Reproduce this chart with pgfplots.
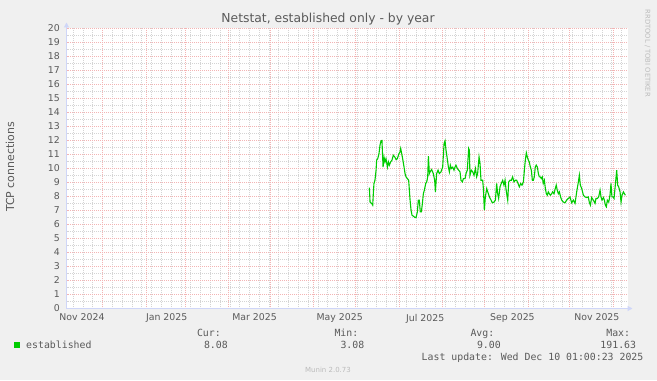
\documentclass[border=0pt]{standalone}
\usepackage{pgfplots}
\pgfplotsset{compat=1.18}
\usepackage{fontspec}
\setmainfont{DejaVu Sans}
\newfontfamily\monofont{DejaVu Sans Mono}
\usetikzlibrary{arrows.meta}
\definecolor{bgc}{HTML}{F0F0F0}
\definecolor{txt}{HTML}{5A5A5A}
\definecolor{ltxt}{HTML}{BBBBBB}
\definecolor{mgrid}{HTML}{F3B4B4}
\definecolor{sgrid}{HTML}{D4D4D4}
\definecolor{axc}{HTML}{CFD6F8}
\definecolor{est}{HTML}{00CC00}
\pgfplotstableread{
x y
190.6 8.64
191.1 7.6
192.3 7.5
193.0 7.38
193.5 8.33
193.9 8.93
194.6 9.16
195.4 9.88
195.8 10.6
196.6 10.7
197.5 11.07
198.2 11.66
198.9 11.97
199.6 12.0
200.4 10.1
201.1 10.8
201.8 10.47
202.5 10.7
203.5 10.1
204.2 10.47
204.9 10.24
205.8 10.47
206.8 10.6
207.7 10.95
208.7 10.83
209.7 10.64
210.6 10.7
211.6 11.02
212.5 11.19
213.0 11.43
213.7 11.07
214.4 10.7
215.4 10.1
216.1 9.64
216.8 9.4
217.8 9.28
218.7 9.16
219.2 8.45
219.7 7.74
220.4 7.02
221.1 6.66
222.0 6.6
223.2 6.5
224.0 6.5
224.9 6.9
225.6 7.74
226.3 7.74
227.0 6.9
227.8 6.9
228.5 7.5
229.2 8.2
229.9 8.45
230.9 8.93
231.6 9.04
232.3 9.4
232.8 10.88
233.5 9.64
234.0 9.76
235.1 9.93
236.3 9.64
237.3 9.16
237.8 8.33
238.7 9.64
239.7 9.88
240.6 9.64
241.8 9.76
243.0 10.1
244.0 11.78
244.7 11.97
245.4 11.3
246.1 10.83
247.1 10.1
247.8 9.76
248.5 10.24
249.2 10.0
250.2 10.1
251.1 9.88
251.8 10.1
252.5 10.24
253.5 10.0
254.4 9.88
255.4 9.76
256.1 9.16
257.1 9.04
257.8 9.28
259.0 9.28
259.7 9.64
260.6 9.88
261.6 11.43
262.1 11.3
262.5 9.52
263.5 9.88
264.5 9.76
265.4 9.52
266.4 10.0
267.3 9.4
268.0 9.64
269.0 10.83
269.7 10.36
270.4 9.16
271.6 9.16
272.1 8.57
272.8 7.02
273.5 7.97
274.5 8.57
275.2 8.33
276.4 7.97
277.6 7.74
278.5 7.55
279.7 7.6
280.7 7.74
281.6 8.93
282.3 8.2
283.0 7.86
284.0 8.69
284.9 8.93
285.9 9.16
286.8 8.81
287.6 9.16
288.3 8.5
289.5 7.74
290.2 9.04
291.1 9.16
292.1 9.16
293.0 9.4
294.0 9.04
294.9 9.16
295.9 9.16
296.9 8.93
297.8 8.69
298.8 8.93
299.7 8.81
300.7 9.04
301.4 9.88
302.1 10.6
302.8 11.12
303.5 10.83
304.2 10.6
304.9 10.47
305.7 10.1
306.4 9.88
307.1 9.16
307.8 9.16
308.5 9.4
309.2 10.1
309.9 10.24
310.7 10.1
311.4 9.64
312.1 9.4
312.8 9.4
313.5 9.28
314.2 9.4
314.9 8.93
315.7 9.16
316.4 8.57
317.1 8.2
317.8 8.09
318.5 8.33
319.2 8.2
320.0 8.09
320.9 8.2
321.6 8.33
322.6 8.2
323.5 8.57
324.2 8.81
324.9 8.45
325.7 8.2
326.4 8.33
327.3 7.97
328.1 7.74
329.3 7.6
330.5 7.55
331.6 7.74
332.8 7.86
334.0 7.97
335.2 7.55
336.4 7.74
337.6 7.5
338.8 8.33
340.0 9.04
340.7 9.52
341.4 8.81
342.4 8.57
343.6 8.09
344.7 7.97
345.9 7.93
347.1 7.97
347.8 7.6
348.6 7.38
349.5 7.93
350.7 7.74
351.9 7.5
352.6 7.86
353.6 7.86
354.5 7.97
355.5 8.45
356.2 7.97
356.9 7.74
357.9 7.93
358.6 7.74
359.3 7.38
360.0 7.26
360.7 7.74
361.7 7.6
362.6 8.09
363.3 8.93
364.0 7.97
364.8 7.97
365.5 7.86
366.4 8.81
367.4 9.88
368.1 8.81
368.8 8.69
369.8 8.33
370.5 7.6
371.2 8.09
372.2 8.33
372.9 8.2
373.6 8.09
}\established
\begin{document}
\begin{tikzpicture}[x=1bp,y=1bp]
\fill[bgc] (0,0) rectangle (657,380);
\useasboundingbox (0,0) rectangle (657,380);
\begin{axis}[
  at={(66.5bp,71.5bp)}, anchor=south west,
  scale only axis, width=561bp, height=280bp,
  xmin=-25.88, xmax=375.13, ymin=0, ymax=20,
  axis background/.style={fill=white},
  axis x line=bottom, axis y line=left,
  axis line style={draw=axc, line width=1bp},
  x axis line style={-{Triangle[length=5bp,width=5bp]}, shorten >=-5bp},
  y axis line style={-{Triangle[length=5bp,width=5bp]}, shorten >=-6bp},
  grid=both,
  major grid style={draw=mgrid, dash pattern=on 1bp off 1bp, dash phase=0.5bp, line width=1bp},
  minor grid style={draw=sgrid, dash pattern=on 1bp off 1bp, dash phase=0.5bp, line width=1bp},
  xtick={0,31,59,90,120,151,181,212,243,273,304,334,365},
  xticklabels={},
  minor xtick={-21,-14,...,371},
  ytick={0,1,...,20},
  minor y tick num=1,
  major tick length=0pt, minor tick length=0pt,
  tick style={draw=none},
  extra x ticks={-14.8,45.7,108.5,169.4,230.5,292.9,353.2},
  extra x tick labels={Nov 2024,Jan 2025,Mar 2025,May 2025,Jul 2025,Sep 2025,Nov 2025},
  extra x tick style={grid=none},
  /pgf/number format/assume math mode=true,
  ticklabel style={font=\fontsize{9.4}{10}\selectfont, text=txt, inner sep=0pt},
  yticklabel style={anchor=east, xshift=-6.5bp},
  xticklabel style={anchor=north, yshift=-5.2bp},
  clip=false,
]
\addplot[est, line width=1.1bp] table[x=x,y=y] {\established};
\end{axis}
\node[text=txt, font=\fontsize{12.4}{14}\selectfont] at (328,360.7) {Netstat, established only - by year};
\node[text=txt, rotate=90, font=\fontsize{11}{13}\selectfont] at (10,213) {TCP connections};
\node[text=ltxt, rotate=-90, font=\fontsize{6.8}{7}\selectfont] at (647.5,326.7) {RRDTOOL / TOBI OETIKER};
\begin{scope}[every node/.style={inner sep=0pt, text=txt, font=\monofont\fontsize{9.9}{11}\selectfont}]
\fill[est] (14,32) rectangle (20,38);
\node[anchor=base west] at (26,31.7) {established};
\node[anchor=base east] at (221,44) {Cur:};
\node[anchor=base east] at (228,31.7) {8.08};
\node[anchor=base east] at (358.5,44) {Min:};
\node[anchor=base east] at (364.5,31.7) {3.08};
\node[anchor=base east] at (494.5,44) {Avg:};
\node[anchor=base east] at (501,31.7) {9.00};
\node[anchor=base east] at (630.3,44) {Max:};
\node[anchor=base east] at (636.3,31.7) {191.63};
\node[anchor=base west] at (421.5,19.5) {Last update: Wed Dec 10 01:00:23 2025};
\end{scope}
\node[text=ltxt, inner sep=0pt, anchor=base, font=\fontsize{7}{8}\selectfont] at (328,7.7) {Munin 2.0.73};
\end{tikzpicture}
\end{document}
